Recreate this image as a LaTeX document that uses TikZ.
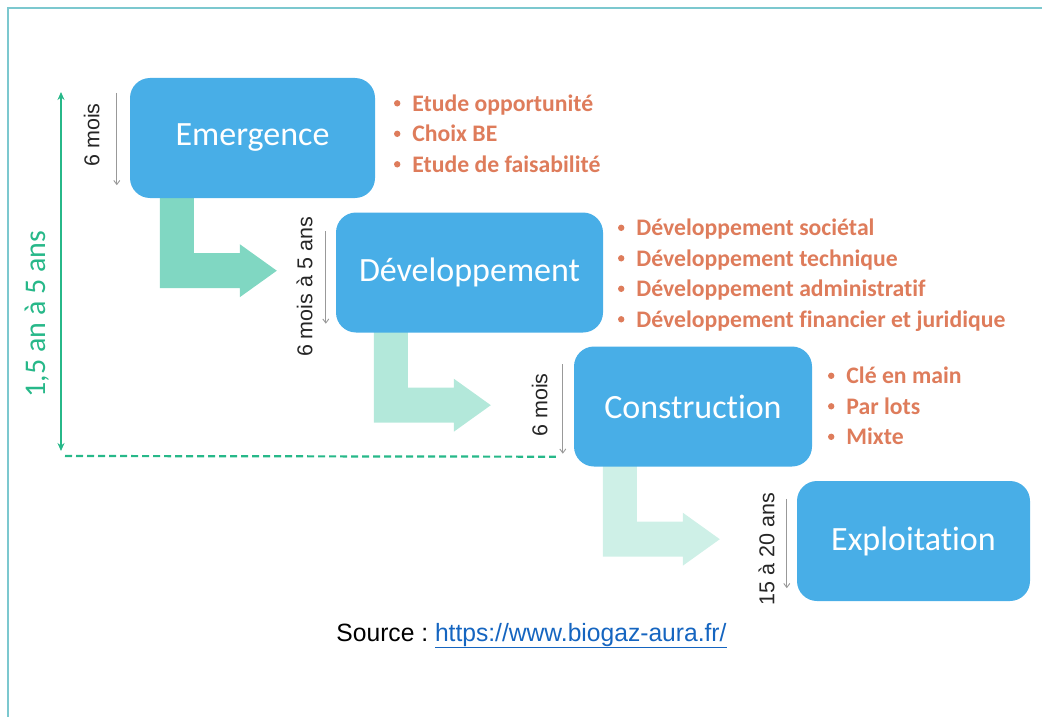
\documentclass[tikz,border=0pt]{standalone}
\usepackage{fontspec}
\setmainfont{Carlito}[Ligatures=NoCommon]
\newfontfamily\durfont{Liberation Sans}
\newfontfamily\srcfont[FakeStretch=0.985]{Liberation Sans}
\usetikzlibrary{calc,arrows.meta,backgrounds}
\definecolor{boxblue}{HTML}{48AEE7}
\definecolor{flowA}{HTML}{80D7C2}
\definecolor{flowB}{HTML}{B3E8DA}
\definecolor{flowC}{HTML}{CEF0E7}
\definecolor{itemorange}{HTML}{DE7C5B}
\definecolor{timegreen}{HTML}{27B889}
\definecolor{durgray}{HTML}{999999}
\definecolor{durtext}{HTML}{262626}
\definecolor{framecol}{HTML}{7CC8CF}
\definecolor{linkblue}{HTML}{1565C0}
\tikzset{
  phase/.style={rectangle, rounded corners=20pt, fill=boxblue, text=white,
    inner sep=0pt, font=\fontsize{34}{38}\selectfont},
  item/.style={anchor=base west, inner sep=0pt, text=itemorange,
    font=\bfseries\fontsize{23.7}{28}\selectfont},
  dur/.style={draw=durgray, line width=0.9pt, -{Straight Barb[length=4pt,width=6pt]}},
  durlabel/.style={rotate=90, anchor=south, inner sep=0pt, text=durtext,
    font=\durfont\fontsize{21.5}{24}\selectfont},
  timeline/.style={draw=timegreen, line width=2.2pt},
}
% bent block arrow below a phase: #1 phase, #2 x offset, #3 colour
\newcommand\bentflow[3]{%
  \fill[#3] ($(#1.south west)+(#2,-4)$) -- ++(34,0) -- ++(0,59) -- ++(46,0)
    -- ++(0,-9) -- ++(37,26.5) -- ++(-37,26.5) -- ++(0,-9) -- ++(-80,0) -- cycle;}
\begin{document}
\begin{tikzpicture}[x=1pt,y=-1pt]
  \useasboundingbox (0,0) rectangle (1042,717);
  \draw[framecol, line width=1.5pt] (1042,8) -- (8,8) -- (8,717);

  % phases
  \node[phase, minimum width=245pt, minimum height=120pt] (emergence) at (252.5,138) {Emergence};
  \node[phase, minimum width=267pt, minimum height=120pt] (developpement) at (469.5,272.5) {Développement};
  \node[phase, minimum width=238pt, minimum height=120pt] (construction) at (693,406.5) {Construction};
  \node[phase, minimum width=233pt, minimum height=120pt] (exploitation) at (913.5,541) {Exploitation};

  \begin{scope}[on background layer]
    \bentflow{emergence}{30}{flowA}
    \bentflow{developpement}{38}{flowB}
    \bentflow{construction}{29}{flowC}
  \end{scope}

  % durations
  \node[durlabel] (d1) at ($(emergence.west)+(-30,-3)$) {6 mois};
  \node[durlabel] (d2) at ($(developpement.west)+(-23,14.5)$) {6 mois à 5 ans};
  \node[durlabel] (d3) at ($(construction.west)+(-26,-1.5)$) {6 mois};
  \node[durlabel] (d4) at ($(exploitation.west)+(-22,8)$) {15 à 20 ans};
  \draw[dur] ($(emergence.north west)+(-13,15)$) -- ($(emergence.south west)+(-13,-13)$);
  \draw[dur] ($(developpement.north west)+(-10,19)$) -- ($(developpement.south west)+(-10,-9)$);
  \draw[dur] ($(construction.north west)+(-11,18)$) -- ($(construction.south west)+(-11,-13)$);
  \draw[dur] ($(exploitation.north west)+(-10,18)$) -- ($(exploitation.south west)+(-10,-13)$);

  % total
  \coordinate (tltop) at (61,92);
  \coordinate (tlbot) at (61,451);
  \coordinate (dashend) at ($(construction.south west)+(-18,-10)$);
  \draw[timeline, {Stealth[length=8pt,width=7pt]}-{Stealth[length=8pt,width=7pt]}] (tltop) -- (tlbot);
  \draw[timeline, dash pattern=on 7pt off 4pt] (65,456) -- (dashend);
  \node[rotate=90, text=timegreen, font=\fontsize{30}{34}\selectfont] (total) at (37,314) {1,5 an à 5 ans};

  % tasks
  \foreach \txt [count=\i] in {Etude opportunité, Choix BE, Etude de faisabilité}{
    \node[item] (em\i) at ($(emergence.north east)+(37,3+30.5*\i)$) {\txt};
    \fill[itemorange] ($(em\i.base west)+(-15,-8)$) circle[radius=3.2pt];
  }
  \foreach \txt [count=\i] in {Développement sociétal, Développement technique,
      Développement administratif, Développement financier et juridique}{
    \node[item] (dev\i) at ($(developpement.north east)+(33,-7+30.5*\i)$) {\txt};
    \fill[itemorange] ($(dev\i.base west)+(-15,-8)$) circle[radius=3.2pt];
  }
  \foreach \txt [count=\i] in {Clé en main, Par lots, Mixte}{
    \node[item] (con\i) at ($(construction.north east)+(34,7+30.5*\i)$) {\txt};
    \fill[itemorange] ($(con\i.base west)+(-15,-8)$) circle[radius=3.2pt];
  }

  \node[anchor=base, inner sep=0pt, font=\srcfont\fontsize{25}{30}\selectfont] (source) at (531.5,641)
    {Source :~\textcolor{linkblue}{\underline{https://www.biogaz-aura.fr/}}};
\end{tikzpicture}
\end{document}
